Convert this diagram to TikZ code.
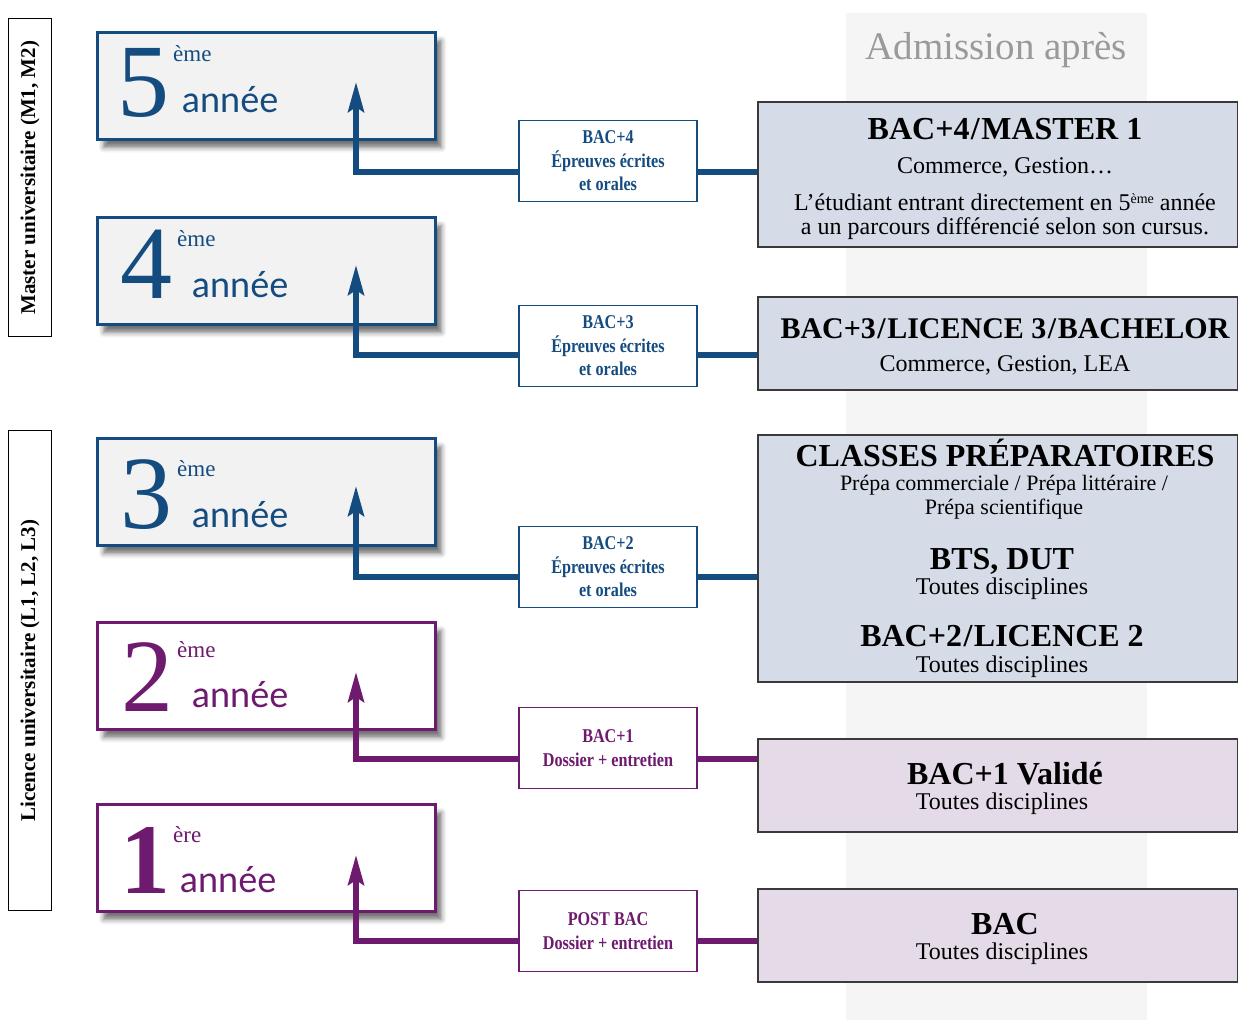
\documentclass[tikz,border=0pt]{standalone}
\usepackage{fontspec}
\setmainfont{Liberation Serif}
\newfontfamily\condfont[FakeStretch=0.83]{Liberation Serif}
\newfontfamily\anneefont{Lato}
\usetikzlibrary{shadows.blur,arrows.meta}
\definecolor{cblue}{HTML}{154C80}
\definecolor{cpurple}{HTML}{6E1A6E}
\definecolor{boxgray}{HTML}{F2F2F2}
\definecolor{rblue}{HTML}{D5DCE8}
\definecolor{rpurple}{HTML}{E5DAE8}
\definecolor{colgray}{HTML}{F5F5F5}
\definecolor{txtgray}{HTML}{9A9A9A}
\definecolor{rborder}{HTML}{3A3A3A}
\newcommand{\slsep}{\kern1.5pt/\kern1.5pt}
\newcommand{\smallsup}[1]{\raisebox{7pt}{\fontsize{14}{14}\selectfont #1}}
\tikzset{
  yearbox/.style={draw, line width=3pt, minimum width=338pt, minimum height=107pt, anchor=north west, inner sep=0pt,
    blur shadow={shadow xshift=6pt, shadow yshift=-8pt, shadow blur radius=5pt, shadow opacity=55}},
  midbox/.style={draw, fill=white, line width=1.3pt, minimum width=178pt, minimum height=81pt, align=center, inner sep=0pt,
    font=\condfont\bfseries\fontsize{19.5}{23.5}\selectfont},
  rbox/.style={draw=rborder, line width=2pt, anchor=north west, inner sep=0pt, minimum width=480pt},
  sidebox/.style={draw=black, line width=1.3pt, minimum width=43pt, anchor=north west, inner sep=0pt},
  sidetext/.style={rotate=90, font=\bfseries\fontsize{21}{24}\selectfont},
  digit/.style={anchor=base west, inner sep=0pt, font=\fontsize{104}{110}\selectfont},
  suptext/.style={anchor=base west, inner sep=0pt, font=\fontsize{23}{26}\selectfont},
  annee/.style={anchor=base west, inner sep=0pt, font=\anneefont\fontsize{36}{40}\selectfont},
  conn/.style={line width=5.5pt, -{Stealth[length=30pt,width=16pt,inset=5pt]}},
  link/.style={line width=5.5pt},
  rtitle/.style={anchor=base, inner sep=0pt, font=\bfseries\fontsize{32}{36}\selectfont},
  rtext/.style={anchor=base, inner sep=0pt, font=\fontsize{24}{26}\selectfont},
}
\begin{document}
\begin{tikzpicture}[x=1pt,y=-1pt]
\useasboundingbox (0,0) rectangle (1238,1020);
% background column
\fill[colgray] (846,13) rectangle (1147,1020);
\node[text=txtgray, font=\fontsize{39}{44}\selectfont, anchor=base] (adm) at (996,59) {Admission après};

% side boxes
\node[sidebox, minimum height=318pt] (sm) at (8,18) {};
\node[sidetext] (smt) at (sm.center) {Master universitaire (M1, M2)};
\node[sidebox, minimum height=480pt] (sl) at (8,430) {};
\node[sidetext] (slt) at (sl.center) {Licence universitaire (L1, L2, L3)};

% year boxes
\node[yearbox, draw=cblue, fill=boxgray] (y5) at (96,31) {};
\node[yearbox, draw=cblue, fill=boxgray] (y4) at (96,216) {};
\node[yearbox, draw=cblue, fill=boxgray] (y3) at (96,437) {};
\node[yearbox, draw=cpurple, fill=white] (y2) at (96,621) {};
\node[yearbox, draw=cpurple, fill=white] (y1) at (96,803) {};

\begin{scope}[text=cblue]
\node[digit] (d5) at (117,116) {5};
\node[suptext] (s5) at (173,61) {ème};
\node[annee] (a5) at (182,112) {année};
\node[digit] (d4) at (120,298) {4};
\node[suptext] (s4) at (177,246) {ème};
\node[annee] (a4) at (192,297) {année};
\node[digit] (d3) at (120,528) {3};
\node[suptext] (s3) at (177,476) {ème};
\node[annee] (a3) at (192,527) {année};
\end{scope}
\begin{scope}[text=cpurple]
\node[digit] (d2) at (121,711) {2};
\node[suptext] (s2) at (177,657) {ème};
\node[annee] (a2) at (192,707) {année};
\node[digit, font=\bfseries\fontsize{100}{106}\selectfont] (d1) at (120,893) {\makebox[42pt][l]{1}};
\node[suptext] (s1) at (173,842) {ère};
\node[annee] (a1) at (180,892) {année};
\end{scope}

% middle boxes
\node[midbox, draw=cblue, text=cblue] (m4) at (608,161) {BAC+4\\Épreuves écrites\\et orales};
\node[midbox, draw=cblue, text=cblue] (m3) at (608,346) {BAC+3\\Épreuves écrites\\et orales};
\node[midbox, draw=cblue, text=cblue] (m2) at (608,567) {BAC+2\\Épreuves écrites\\et orales};
\node[midbox, draw=cpurple, text=cpurple] (m1) at (608,748) {BAC+1\\Dossier + entretien};
\node[midbox, draw=cpurple, text=cpurple] (m0) at (608,931) {POST BAC\\Dossier + entretien};

% right boxes
\node[rbox, fill=rblue, minimum height=145pt] (r4) at (757,101) {};
\node[rbox, fill=rblue, minimum height=93pt] (r3) at (757,296) {};
\node[rbox, fill=rblue, minimum height=247pt] (r2) at (757,434) {};
\node[rbox, fill=rpurple, minimum height=93pt] (r1) at (757,738) {};
\node[rbox, fill=rpurple, minimum height=93pt] (r0) at (757,888) {};

\node[rtitle] (t4a) at (1005,139) {BAC+4\slsep MASTER 1};
\node[rtext] (t4b) at (1005,173) {Commerce, Gestion…};
\node[rtext] (t4c) at (1005,210) {L’étudiant entrant directement en 5\smallsup{ème} année};
\node[rtext] (t4d) at (1005,234) {a un parcours différencié selon son cursus.};

\node[rtitle, font=\bfseries\fontsize{30}{34}\selectfont] (t3a) at (1005,338) {BAC+3\slsep LICENCE 3\slsep BACHELOR};
\node[rtext] (t3b) at (1005,371) {Commerce, Gestion, LEA};

\node[rtitle] (t2a) at (1005,466) {CLASSES PRÉPARATOIRES};
\node[rtext, font=\fontsize{22}{24}\selectfont] (t2b) at (1004,490) {Prépa commerciale / Prépa littéraire /};
\node[rtext, font=\fontsize{22}{24}\selectfont] (t2c) at (1004,514) {Prépa scientifique};
\node[rtitle] (t2d) at (1002,569) {BTS, DUT};
\node[rtext] (t2e) at (1002,594) {Toutes disciplines};
\node[rtitle] (t2f) at (1002,646) {BAC+2\slsep LICENCE 2};
\node[rtext] (t2g) at (1002,672) {Toutes disciplines};

\node[rtitle] (t1a) at (1005,784) {BAC+1 Validé};
\node[rtext] (t1b) at (1002,809) {Toutes disciplines};

\node[rtitle] (t0a) at (1005,934) {BAC};
\node[rtext] (t0b) at (1002,959) {Toutes disciplines};

% connectors
\coordinate (c5) at (356,172);
\coordinate (c4) at (356,355);
\coordinate (c3) at (356,577);
\coordinate (c2) at (356,759);
\coordinate (c1) at (356,941);
\coordinate (p5) at (356,82);
\coordinate (p4) at (356,265);
\coordinate (p3) at (356,486);
\coordinate (p2) at (356,672);
\coordinate (p1) at (356,855);

\draw[conn, cblue] (m4.west |- c5) -- (c5) -- (p5);
\draw[conn, cblue] (m3.west |- c4) -- (c4) -- (p4);
\draw[conn, cblue] (m2.west |- c3) -- (c3) -- (p3);
\draw[conn, cpurple] (m1.west |- c2) -- (c2) -- (p2);
\draw[conn, cpurple] (m0.west |- c1) -- (c1) -- (p1);

\draw[link, cblue] (m4.east |- c5) -- (r4.west |- c5);
\draw[link, cblue] (m3.east |- c4) -- (r3.west |- c4);
\draw[link, cblue] (m2.east |- c3) -- (r2.west |- c3);
\draw[link, cpurple] (m1.east |- c2) -- (r1.west |- c2);
\draw[link, cpurple] (m0.east |- c1) -- (r0.west |- c1);
\end{tikzpicture}
\end{document}
